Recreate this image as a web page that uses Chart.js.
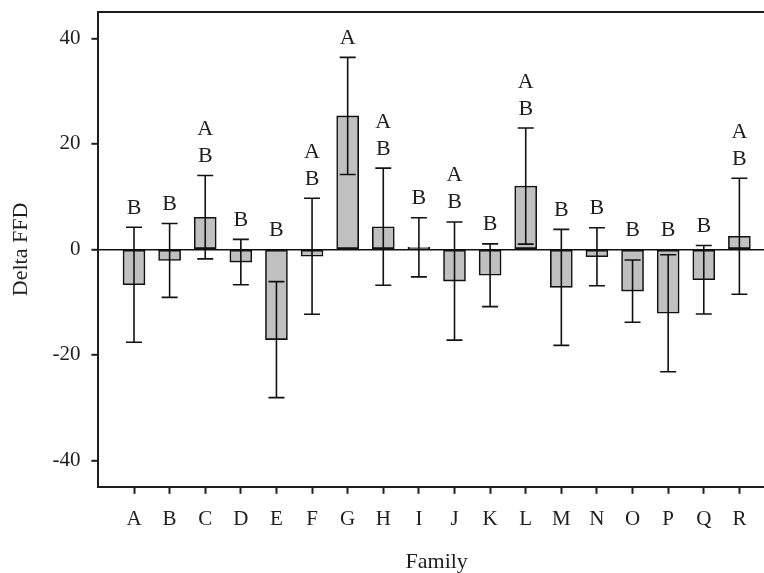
<!DOCTYPE html>
<html>
<head>
<meta charset="utf-8">
<script src="https://cdn.jsdelivr.net/npm/chart.js@4/dist/chart.umd.min.js"></script>
<style>
html,body{margin:0;padding:0;background:#fff;overflow:hidden;}
#wrap{width:776px;height:573px;}
</style>
</head>
<body>
<div id="wrap"><canvas id="c" width="776" height="573"></canvas></div>
<script>
const families = ['A','B','C','D','E','F','G','H','I','J','K','L','M','N','O','P','Q','R'];
const means = [-6.7, -2.1, 6.1, -2.4, -17.1, -1.3, 25.3, 4.3, 0.4, -6.0, -4.9, 12.0, -7.2, -1.4, -7.9, -12.1, -5.75, 2.5];
const errs  = [10.9, 7.0, 7.9, 4.3, 11.0, 11.0, 11.1, 11.1, 5.6, 11.2, 5.95, 11.0, 11.0, 5.5, 5.9, 11.1, 6.5, 11.0];
const groups = ['B','B','AB','B','B','AB','A','AB','B','AB','B','AB','B','B','B','B','B','AB'];
const yTicks = [-40, -20, 0, 20, 40];

const FONT = "'Liberation Serif', 'Times New Roman', serif";
const INK = '#1e1e1e';

const extras = {
  id: 'extras',
  afterDatasetsDraw(chart) {
    const ctx = chart.ctx;
    const xs = chart.scales.x, ys = chart.scales.y;
    const area = chart.chartArea;
    ctx.save();
    ctx.strokeStyle = INK;
    ctx.lineWidth = 2;
    ctx.beginPath();
    ctx.moveTo(area.left - 1, area.top);
    ctx.lineTo(area.right, area.top);
    ctx.stroke();
    ctx.lineWidth = 1.6;
    ctx.strokeStyle = '#111';
    means.forEach((m, i) => {
      const x = xs.getPixelForValue(i + 1);
      const yt = ys.getPixelForValue(m + errs[i]);
      const yb = ys.getPixelForValue(m - errs[i]);
      ctx.beginPath();
      ctx.moveTo(x, yt); ctx.lineTo(x, yb);
      ctx.moveTo(x - 8, yt); ctx.lineTo(x + 8, yt);
      ctx.moveTo(x - 8, yb); ctx.lineTo(x + 8, yb);
      ctx.stroke();
    });
    ctx.fillStyle = INK;
    ctx.font = '22px ' + FONT;
    ctx.textAlign = 'center';
    ctx.textBaseline = 'alphabetic';
    groups.forEach((g, i) => {
      const x = xs.getPixelForValue(i + 1);
      const anchor = ys.getPixelForValue(Math.max(0, means[i] + errs[i]));
      const letters = g.split('');
      for (let k = 0; k < letters.length; k++) {
        const line = letters[letters.length - 1 - k];
        ctx.fillText(line, x, anchor - 13.5 - k * 27);
      }
    });
    ctx.restore();
  }
};

new Chart(document.getElementById('c'), {
  type: 'bar',
  data: {
    datasets: [{
      data: means.map((v, i) => ({x: i + 1, y: v})),
      backgroundColor: '#c0c0c0',
      borderColor: '#111',
      borderWidth: 1.6,
      borderSkipped: false,
      barThickness: 22
    }]
  },
  options: {
    responsive: false,
    animation: false,
    events: [],
    layout: {padding: {top: 12, left: 8, right: 1, bottom: 0}},
    plugins: {legend: {display: false}, tooltip: {enabled: false}},
    scales: {
      x: {
        type: 'linear',
        offset: false,
        min: 0, max: 19,
        afterBuildTicks: (axis) => { axis.ticks = families.map((f, i) => ({value: i + 1})); },
        ticks: {
          autoSkip: false,
          maxRotation: 0,
          padding: 13,
          color: INK,
          font: {family: FONT, size: 21},
          callback: (v) => families[v - 1] || ''
        },
        grid: {display: true, offset: false, drawOnChartArea: false, drawTicks: true, tickLength: 7, tickColor: INK, tickWidth: 2},
        border: {display: true, color: INK, width: 2},
        title: {display: true, text: 'Family', color: INK, font: {family: FONT, size: 22, lineHeight: 1}, padding: {top: 6, bottom: 0}}
      },
      y: {
        min: -45, max: 45,
        afterBuildTicks: (axis) => { axis.ticks = yTicks.map(v => ({value: v})); },
        afterFit: (axis) => { axis.paddingTop = 0; axis.paddingBottom = 0; },
        ticks: {
          padding: 11,
          color: INK,
          font: {family: FONT, size: 21},
          callback: (v) => String(v)
        },
        grid: {
          drawOnChartArea: true,
          drawTicks: true,
          tickLength: 7,
          tickColor: INK,
          tickWidth: 2,
          color: (c) => (c.tick && c.tick.value === 0) ? '#111' : 'rgba(0,0,0,0)',
          lineWidth: 1.6
        },
        border: {display: true, color: INK, width: 2},
        title: {display: true, text: 'Delta FFD', color: INK, font: {family: FONT, size: 22, lineHeight: 1.2}, padding: {top: 0, bottom: 7}}
      }
    }
  },
  plugins: [extras]
});
</script>
</body>
</html>
